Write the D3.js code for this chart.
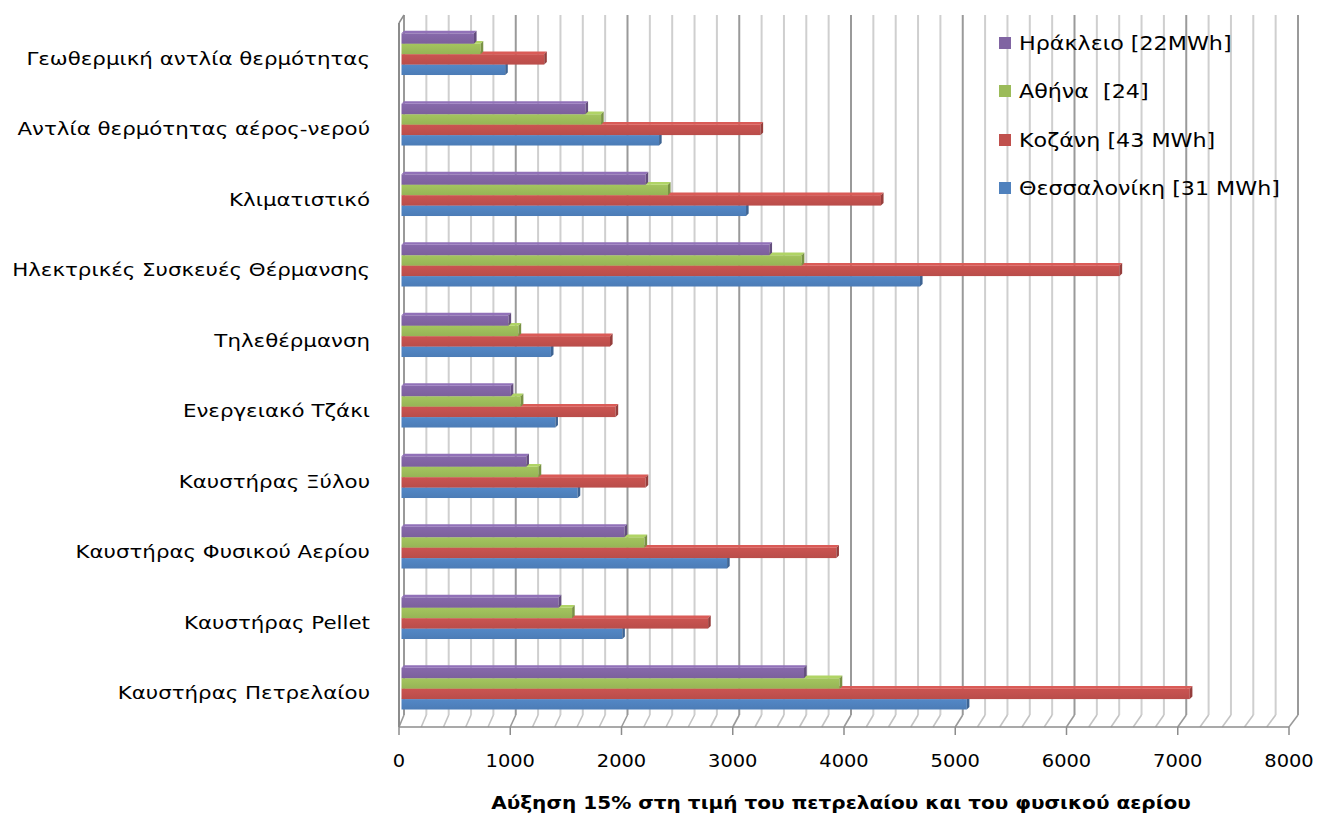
<!DOCTYPE html>
<html>
<head>
<meta charset="utf-8">
<script src="https://cdnjs.cloudflare.com/ajax/libs/d3/7.8.5/d3.min.js"></script>
<style>
  html, body { margin: 0; padding: 0; background: #fff; }
  svg { display: block; }
  text { font-family: "DejaVu Sans", Verdana, sans-serif; fill: #000; }
</style>
</head>
<body>
<svg id="chart" width="1317" height="814"></svg>
<script>
// Heating systems, listed top to bottom
const categories = [
  "Γεωθερμική αντλία θερμότητας",
  "Αντλία θερμότητας αέρος-νερού",
  "Κλιματιστικό",
  "Ηλεκτρικές Συσκευές Θέρμανσης",
  "Τηλεθέρμανση",
  "Ενεργειακό Τζάκι",
  "Καυστήρας Ξύλου",
  "Καυστήρας Φυσικού Αερίου",
  "Καυστήρας Pellet",
  "Καυστήρας Πετρελαίου"
];

// Series names (legend order, also top-to-bottom order inside each group)
const seriesNames = ["Ηράκλειο [22MWh]", "Αθήνα  [24]", "Κοζάνη [43 MWh]", "Θεσσαλονίκη [31 MWh]"];

// Values per city, one per heating system
const heraklion    = [650, 1650, 2190, 3300,  960,  980, 1120, 2000, 1410, 3610];
const athens       = [710, 1790, 2390, 3590, 1050, 1070, 1230, 2180, 1530, 3930];
const kozani       = [1280, 3220, 4300, 6440, 1870, 1920, 2190, 3900, 2750, 7070];
const thessaloniki = [930, 2310, 3090, 4650, 1340, 1380, 1580, 2920, 1980, 5070];

const xTickValues = [0, 1000, 2000, 3000, 4000, 5000, 6000, 7000, 8000];
const xTitle = "Αύξηση 15% στη τιμή του πετρελαίου και του φυσικού αερίου";

const seriesValues = [heraklion, athens, kozani, thessaloniki];
const seriesColors = ["#8064A2", "#9BBB59", "#C0504D", "#4F81BD"];

const svg = d3.select("#chart");

// 3D box: front plane, back wall, and the mid plane where the bars sit
const wallTop = 15, sideTop = 23, floorBack = 715, floorFront = 727;
const xFront = d3.scaleLinear().domain([0, 8000]).range([399, 1289]);
const xBack  = d3.scaleLinear().domain([0, 8000]).range([404, 1298]);
const xBar   = d3.scaleLinear().domain([0, 8000]).range([401.5, 1293.5]);

const y = d3.scaleBand().domain(categories).range([18.9, 723.9])
  .paddingInner(0.408).paddingOuter(0.204);
const ySub = d3.scaleBand().domain(seriesNames).range([0, y.bandwidth()]);

const grid = d3.range(0, 8001, 200);

// back wall gridlines
const gGrid = svg.append("g");
gGrid.selectAll("line.wall").data(grid).join("line")
  .attr("class", "wall")
  .attr("x1", d => xBack(d)).attr("x2", d => xBack(d))
  .attr("y1", wallTop).attr("y2", floorBack)
  .attr("stroke", d => d % 1000 === 0 ? "#9a9a9a" : "#cfcfcf")
  .attr("stroke-width", 2);

// floor lines running from the back wall to the front edge
gGrid.selectAll("line.floor").data(grid).join("line")
  .attr("class", "floor")
  .attr("x1", d => xBack(d)).attr("x2", d => xFront(d))
  .attr("y1", floorBack).attr("y2", floorFront)
  .attr("stroke", d => d % 1000 === 0 ? "#9a9a9a" : "#c4c4c4")
  .attr("stroke-width", 1.6);

// left side wall edges
gGrid.append("line")
  .attr("x1", xFront(0)).attr("x2", xFront(0))
  .attr("y1", sideTop).attr("y2", floorFront)
  .attr("stroke", "#8c8c8c").attr("stroke-width", 2);
gGrid.append("line")
  .attr("x1", xFront(0)).attr("x2", xBack(0))
  .attr("y1", sideTop).attr("y2", wallTop)
  .attr("stroke", "#8c8c8c").attr("stroke-width", 1.5);

// front value axis
gGrid.append("line")
  .attr("x1", xFront(0)).attr("x2", xFront(8000))
  .attr("y1", floorFront).attr("y2", floorFront)
  .attr("stroke", "#8c8c8c").attr("stroke-width", 1.5);
gGrid.selectAll("line.tick").data(xTickValues).join("line")
  .attr("class", "tick")
  .attr("x1", d => xFront(d)).attr("x2", d => xFront(d))
  .attr("y1", floorFront).attr("y2", floorFront + 8)
  .attr("stroke", "#8c8c8c").attr("stroke-width", 1.5);

// text is set slightly wide, as in the original rendering
const stretch = (x, yy, sx) => `translate(${x},${yy}) scale(${sx},1)`;

svg.append("g").selectAll("text").data(xTickValues).join("text")
  .attr("transform", d => stretch(xFront(d), 767, 1.08))
  .attr("text-anchor", "middle")
  .attr("font-size", 18)
  .text(d => d);

svg.append("text")
  .attr("transform", stretch(841, 809, 1.18))
  .attr("text-anchor", "middle")
  .attr("font-size", 17).attr("font-weight", "bold")
  .text(xTitle);

// category labels
svg.append("g").selectAll("text").data(categories).join("text")
  .attr("transform", d => stretch(370, y(d) + y.bandwidth() / 2 + 4.5, 1.187))
  .attr("dy", "0.35em")
  .attr("text-anchor", "end")
  .attr("font-size", 18)
  .text(d => d);

// bars: front face plus top and end faces for depth
const depth = 2.6;
const defs = svg.append("defs");
seriesColors.forEach((c, i) => {
  const g = defs.append("linearGradient").attr("id", "grad" + i)
    .attr("x1", 0).attr("y1", 0).attr("x2", 0).attr("y2", 1);
  g.append("stop").attr("offset", "0%").attr("stop-color", d3.color(c).brighter(0.15));
  g.append("stop").attr("offset", "100%").attr("stop-color", d3.color(c).darker(0.1));
});

const bars = [];
categories.forEach((cat, ci) => {
  // bottom series first so upper bars cover the top faces below them
  for (let si = seriesNames.length - 1; si >= 0; si--) {
    bars.push({ cat, si, v: seriesValues[si][ci] });
  }
});

const gBars = svg.append("g");
const bar = gBars.selectAll("g").data(bars).join("g");

bar.append("rect")
  .attr("x", xBar(0))
  .attr("y", d => y(d.cat) + ySub(seriesNames[d.si]))
  .attr("width", d => xBar(d.v) - xBar(0))
  .attr("height", ySub.bandwidth())
  .attr("fill", d => `url(#grad${d.si})`);

bar.append("path")
  .attr("d", d => {
    const x0 = xBar(0), x1 = xBar(d.v), t = y(d.cat) + ySub(seriesNames[d.si]);
    return `M${x0},${t}L${x0 + depth},${t - depth}L${x1 + depth},${t - depth}L${x1},${t}Z`;
  })
  .attr("fill", d => d3.color(seriesColors[d.si]).brighter(0.35));

bar.append("path")
  .attr("d", d => {
    const x1 = xBar(d.v), t = y(d.cat) + ySub(seriesNames[d.si]), b = t + ySub.bandwidth();
    return `M${x1},${t}L${x1 + depth},${t - depth}L${x1 + depth},${b - depth}L${x1},${b}Z`;
  })
  .attr("fill", d => d3.color(seriesColors[d.si]).darker(0.7));

// legend
const legend = svg.append("g");
const legendY = [43, 91, 140, 188];
const item = legend.selectAll("g").data(seriesNames).join("g")
  .attr("transform", (d, i) => `translate(999,${legendY[i]})`);
item.append("rect")
  .attr("x", 0).attr("y", -6).attr("width", 12).attr("height", 12)
  .attr("fill", (d, i) => seriesColors[i]);
item.append("text")
  .attr("transform", stretch(20, 0, 1.17))
  .attr("dy", "0.36em")
  .attr("font-size", 19)
  .style("white-space", "pre")
  .text(d => d);
</script>
</body>
</html>
